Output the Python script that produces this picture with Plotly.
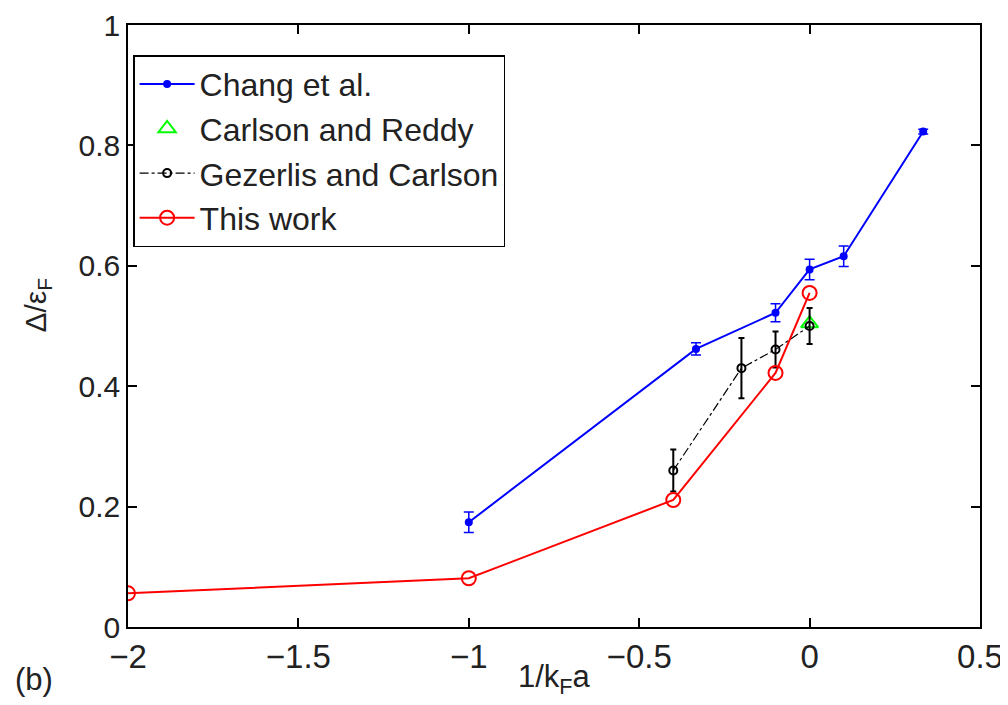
import plotly.graph_objects as go

# Chang et al.
chang_x = [-1.0, -1/3, -0.1, 0.0, 0.1, 1/3]
chang_y = [0.174, 0.462, 0.522, 0.594, 0.616, 0.823]
chang_err = [0.017, 0.010, 0.015, 0.017, 0.017, 0.004]

# Carlson and Reddy
reddy_x = [0.0]
reddy_y = [0.504]

# Gezerlis and Carlson
gez_x = [-0.4, -0.2, -0.1, 0.0]
gez_y = [0.26, 0.43, 0.461, 0.50]
gez_err = [0.035, 0.05, 0.03, 0.03]

# This work
this_x = [-2.0, -1.0, -0.4, -0.1, 0.0]
this_y = [0.056, 0.081, 0.211, 0.422, 0.555]

x_ticks = [-2, -1.5, -1, -0.5, 0, 0.5]
x_labels = ["\u22122", "\u22121.5", "\u22121", "\u22120.5", "0", "0.5"]
y_ticks = [0, 0.2, 0.4, 0.6, 0.8, 1]
y_labels = ["0", "0.2", "0.4", "0.6", "0.8", "1"]

FONT = "Liberation Sans, Arial, Helvetica, sans-serif"
TXT = "#222222"

fig = go.Figure()
fig.add_trace(go.Scatter(
    x=chang_x, y=chang_y, name="Chang et al.", mode="lines+markers",
    line=dict(color="#0000ff", width=2),
    marker=dict(symbol="circle", size=8, color="#0000ff"),
    error_y=dict(type="data", array=chang_err, visible=True, color="#0000ff", thickness=1.5, width=5),
))
fig.add_trace(go.Scatter(
    x=reddy_x, y=reddy_y, name="Carlson and Reddy", mode="markers",
    marker=dict(symbol="triangle-up-open", size=15, color="#00ff00", line=dict(width=2, color="#00ff00")),
))
fig.add_trace(go.Scatter(
    x=gez_x, y=gez_y, name="Gezerlis and Carlson", mode="lines+markers",
    line=dict(color="#000000", width=1.2, dash="dashdot"),
    marker=dict(symbol="circle-open", size=8, color="#000000", line=dict(width=2, color="#000000")),
    error_y=dict(type="data", array=gez_err, visible=True, color="#000000", thickness=2, width=3),
))
fig.add_trace(go.Scatter(
    x=this_x, y=this_y, name="This work", mode="lines+markers",
    line=dict(color="#ff0000", width=2),
    marker=dict(symbol="circle-open", size=14, color="#ff0000", line=dict(width=2, color="#ff0000")),
))

axis_common = dict(
    showgrid=False, zeroline=False, showline=True, linecolor="black", linewidth=1.5,
    mirror="allticks", ticks="inside", ticklen=9, tickwidth=1.5, tickcolor="black",
    automargin=False,
)
fig.update_xaxes(range=[-2, 0.5], tickvals=x_ticks, ticktext=x_labels,
                 tickfont=dict(family=FONT, size=33, color=TXT), **axis_common)
fig.update_yaxes(range=[0, 1], tickvals=y_ticks, ticktext=y_labels,
                 tickfont=dict(family=FONT, size=30, color=TXT), **axis_common)

fig.update_layout(
    width=1008, height=705,
    margin=dict(l=120, r=36, t=17, b=86),
    paper_bgcolor="white", plot_bgcolor="white",
    font=dict(family=FONT, color=TXT),
    legend=dict(
        x=0.006, y=0.95, xanchor="left", yanchor="top",
        bgcolor="white", bordercolor="black", borderwidth=1.5,
        font=dict(family=FONT, size=32, color=TXT),
        itemwidth=55, tracegroupgap=0,
    ),
    showlegend=True,
    annotations=[
        dict(text="1/k<sub>F</sub>a", xref="paper", yref="paper", x=0.5, y=-0.086,
             xanchor="center", yanchor="middle", showarrow=False,
             font=dict(family=FONT, size=31, color=TXT)),
        dict(text="\u0394/\u03b5<sub>F</sub>", xref="paper", yref="paper", x=-0.106, y=0.535,
             xanchor="center", yanchor="middle", showarrow=False, textangle=-90,
             font=dict(family=FONT, size=30, color=TXT)),
        dict(text="(b)", xref="paper", yref="paper", x=-0.135, y=-0.088,
             xanchor="left", yanchor="middle", showarrow=False,
             font=dict(family=FONT, size=31, color=TXT)),
    ],
)

fig.write_html("out.html")
